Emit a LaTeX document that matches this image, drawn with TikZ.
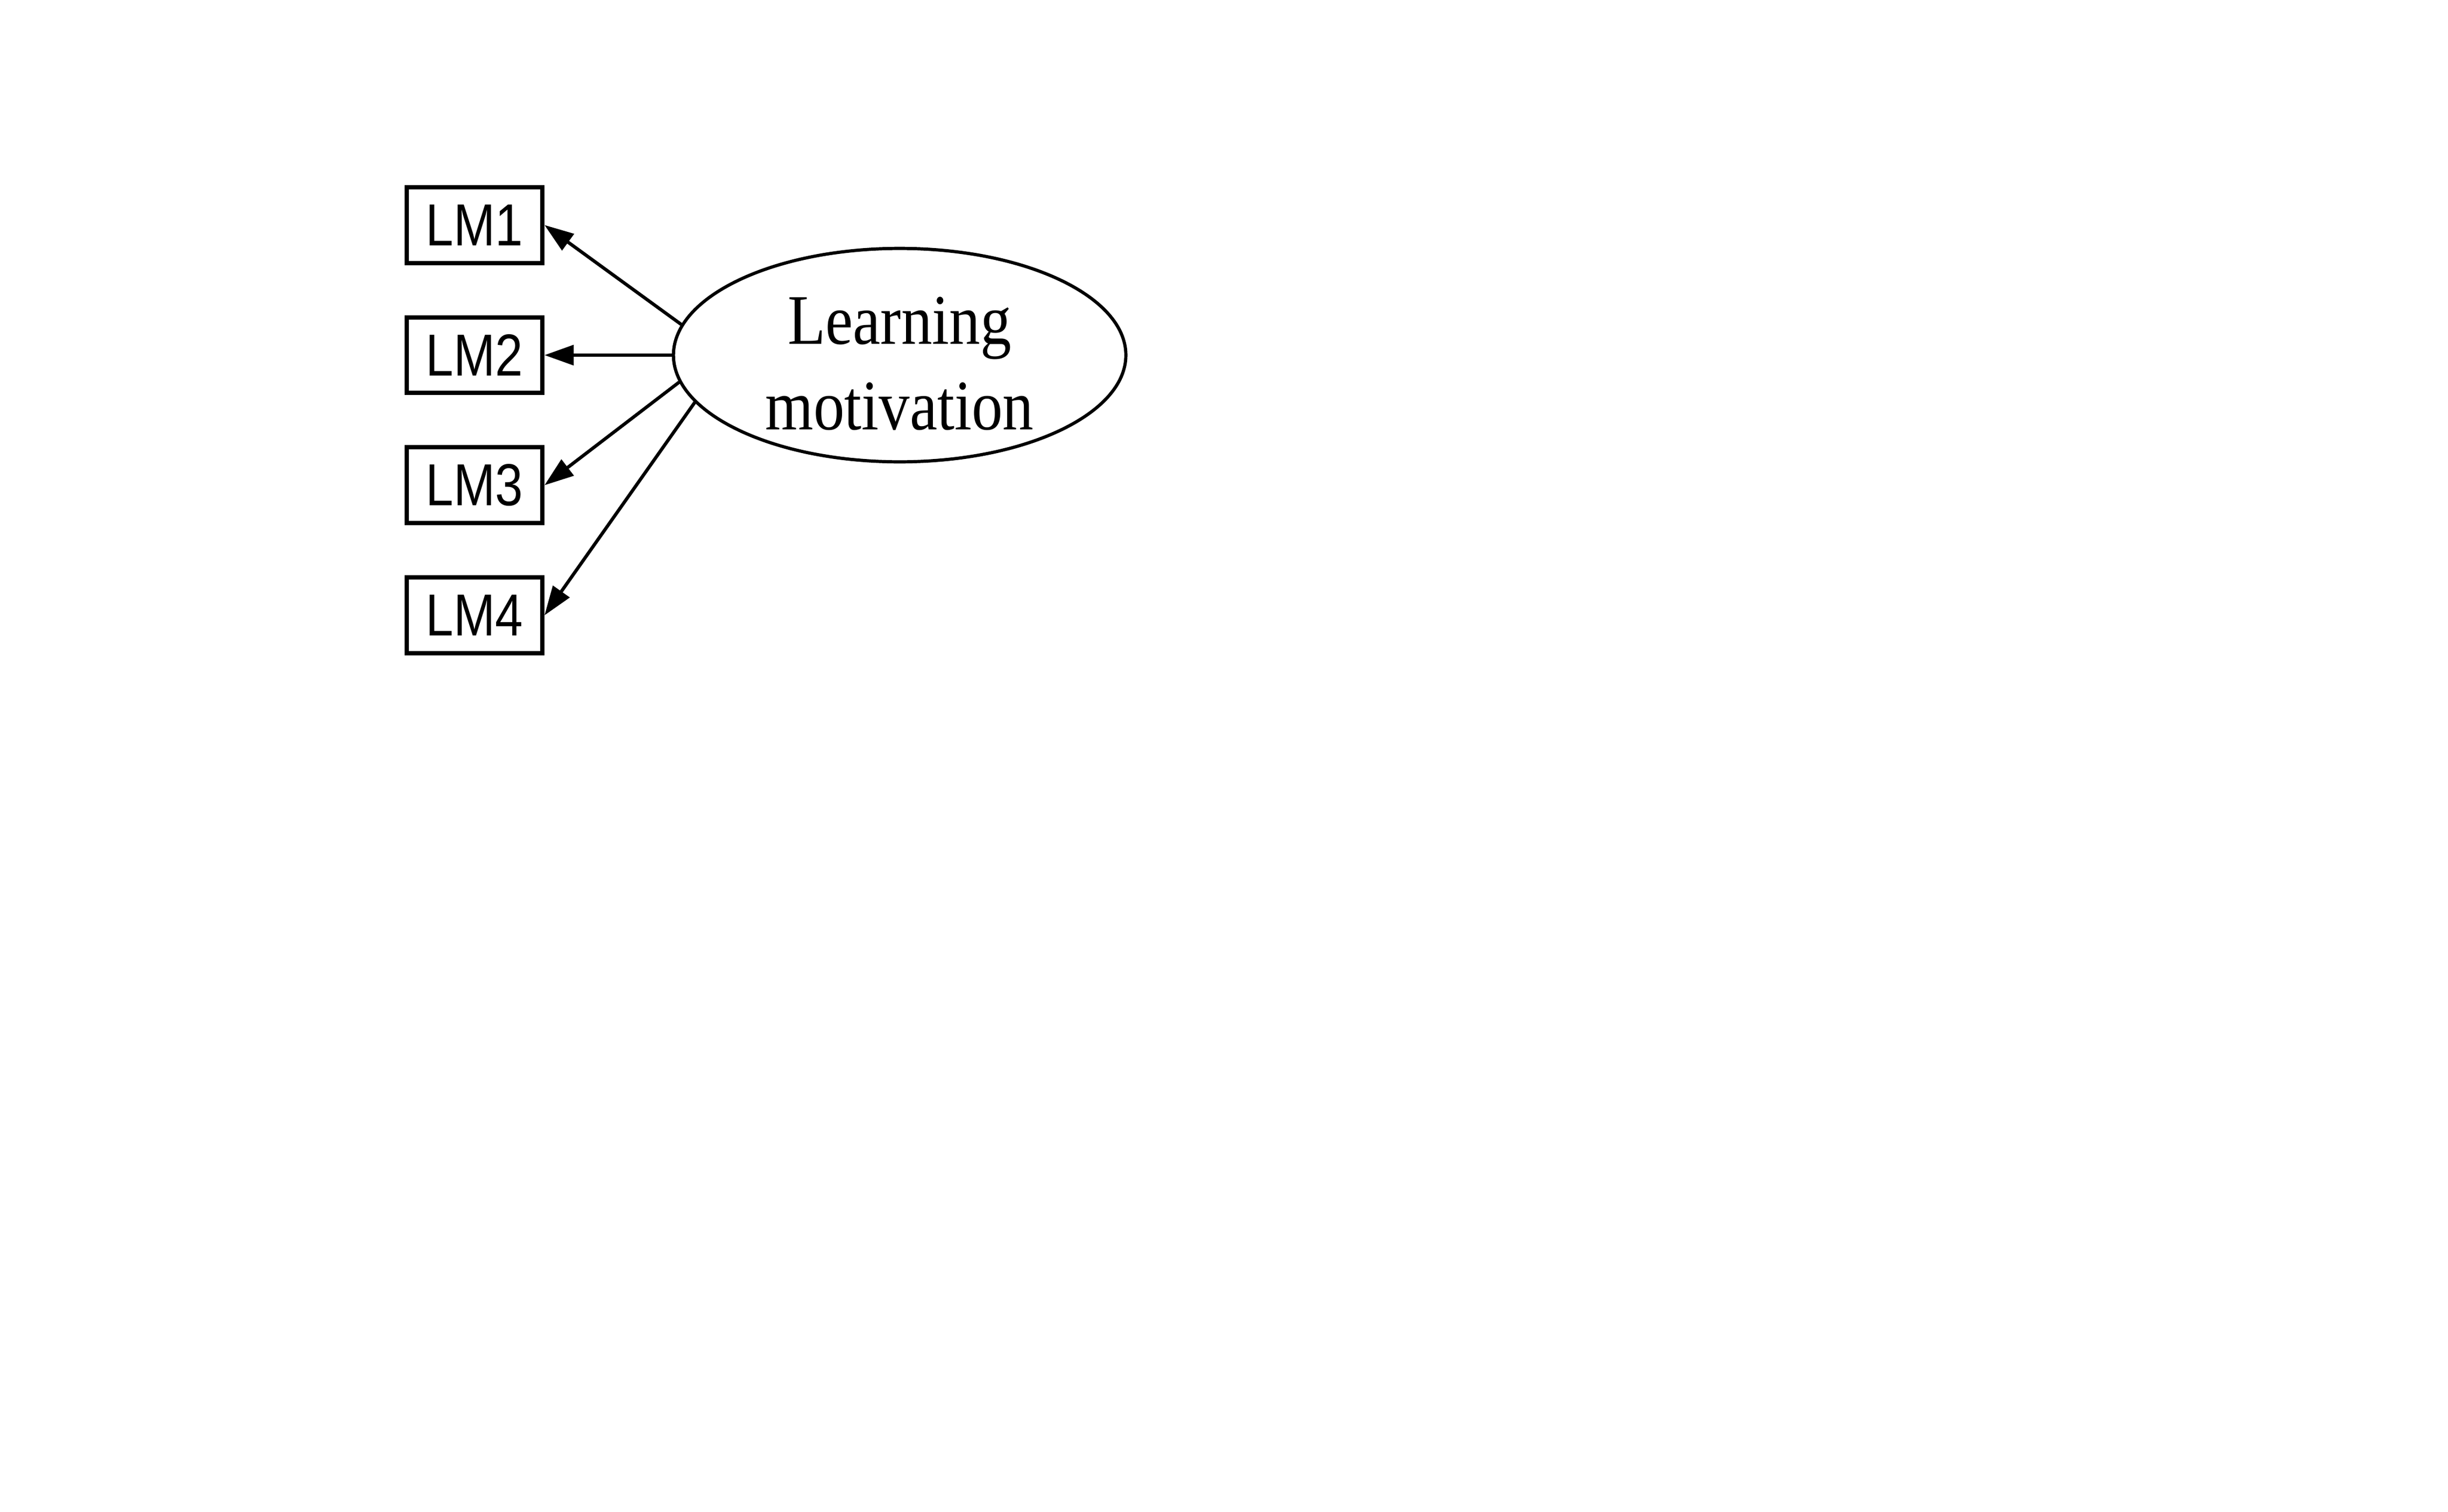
\documentclass[tikz,border=0pt]{standalone}
\usepackage{fontspec}
\setmainfont[FakeStretch=0.87]{Liberation Serif}
\newfontfamily\arialfont[FakeStretch=0.84]{Liberation Sans}
\usetikzlibrary{shapes.geometric,arrows.meta}
\begin{document}
\begin{tikzpicture}
\tikzset{boite/.style={draw, line width=0.78pt, minimum width=0.864cm, minimum height=0.483cm, inner sep=0pt, font=\arialfont\fontsize{10.75}{12}\selectfont}}
\tikzset{ovale/.style={draw, ellipse, line width=0.58pt, minimum width=2.883cm, minimum height=1.36cm, inner sep=0pt, inner ysep=-2pt, align=center, font=\fontsize{12.9}{15.5}\selectfont}}
\tikzset{fleche/.style={-{Triangle[length=5.3pt,width=3.6pt]}, line width=0.6pt}}
\useasboundingbox (0,0) rectangle (15.6,-9.631);
\node[boite] (LM1) at (3.024,-1.434) {LM1};
\node[boite] (LM2) at (3.024,-2.263) {LM2};
\node[boite] (LM3) at (3.024,-3.092) {LM3};
\node[boite] (LM4) at (3.024,-3.921) {LM4};
\node[ovale] (LMot) at (5.733,-2.263) {\rule{0pt}{11.7pt}Learning\\motivation};
\draw[fleche] (LMot.172.6) -- (LM1.east);
\draw[fleche] (LMot.west) -- (LM2.east);
\draw[fleche] (LMot.187.5) -- (LM3.east);
\draw[fleche] (LMot.193.2) -- (LM4.east);
\end{tikzpicture}
\end{document}
